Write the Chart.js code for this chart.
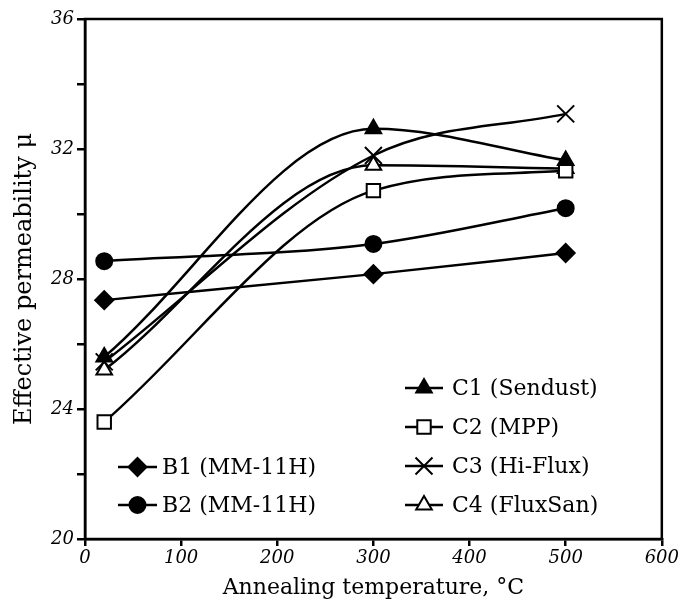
<!DOCTYPE html>
<html>
<head>
<meta charset="utf-8">
<script src="https://cdn.jsdelivr.net/npm/chart.js@4"></script>
<style>
html,body{margin:0;padding:0;background:#fff;}
#wrap{width:681px;height:605px;}
</style>
</head>
<body>
<div id="wrap"><canvas id="c" width="681" height="605"></canvas></div>
<script>
const temps = [20, 300, 500];
const b1 = [27.35, 28.15, 28.8];
const b2 = [28.55, 29.08, 30.18];
const c1 = [25.6, 32.62, 31.65];
const c2 = [23.6, 30.72, 31.33];
const c3 = [25.45, 31.8, 33.08];
const c4 = [25.2, 31.5, 31.4];
const seriesLabels = ['B1 (MM-11H)', 'B2 (MM-11H)', 'C1 (Sendust)', 'C2 (MPP)', 'C3 (Hi-Flux)', 'C4 (FluxSan)'];
const xTicks = [0, 100, 200, 300, 400, 500, 600];
const yTicks = [20, 24, 28, 32, 36];

const serif = '"DejaVu Serif", "Liberation Serif", serif';

function pts(arr){ return temps.map((t,i)=>({x:t, y:arr[i]})); }

const styles = [
  {pointStyle:'rectRot', radius:9, bg:'#000'},
  {pointStyle:'circle', radius:8, bg:'#000'},
  {pointStyle:'triangle', radius:9, bg:'#000'},
  {pointStyle:'rect', radius:9.5, bg:'#fff'},
  {pointStyle:'crossRot', radius:12, bg:'#000'},
  {pointStyle:'triangle', radius:9, bg:'#fff'}
];
const values = [b1, b2, c1, c2, c3, c4];

const datasets = values.map((v,i)=>({
  label: seriesLabels[i],
  data: pts(v),
  borderColor:'#000',
  borderWidth:2.5,
  backgroundColor: styles[i].bg,
  pointBackgroundColor: styles[i].bg,
  pointBorderColor:'#000',
  pointBorderWidth:2,
  pointStyle: styles[i].pointStyle,
  pointRadius: styles[i].radius,
  pointHoverRadius: styles[i].radius,
  cubicInterpolationMode:'monotone',
  fill:false
}));

const legendPlugin = {
  id:'customLegend',
  afterDraw(chart){
    const ctx = chart.ctx;
    const a = chart.chartArea;
    ctx.save();
    ctx.strokeStyle = '#000';
    ctx.lineWidth = 2.5;
    ctx.strokeRect(a.left, a.top, a.right - a.left, a.bottom - a.top);
    const groups = [
      {items:[0,1], lineX0:a.left+33, lineX1:a.left+72, textX:a.left+77, ys:[a.bottom-72, a.bottom-34]},
      {items:[2,3,4,5], lineX0:a.left+320, lineX1:a.left+358, textX:a.left+367, ys:[a.bottom-151, a.bottom-112, a.bottom-73, a.bottom-34]}
    ];
    ctx.font = '22px ' + serif;
    ctx.textBaseline = 'middle';
    ctx.textAlign = 'left';
    groups.forEach(g=>{
      g.items.forEach((idx,k)=>{
        const y = g.ys[k];
        const ds = chart.data.datasets[idx];
        ctx.strokeStyle = '#000';
        ctx.lineWidth = 2.5;
        ctx.beginPath();
        ctx.moveTo(g.lineX0, y);
        ctx.lineTo(g.lineX1, y);
        ctx.stroke();
        ctx.fillStyle = ds.pointBackgroundColor;
        ctx.strokeStyle = '#000';
        ctx.lineWidth = 2;
        Chart.helpers.drawPoint(ctx, {pointStyle: ds.pointStyle, radius: ds.pointRadius, borderWidth:2, rotation:0}, (g.lineX0+g.lineX1)/2, y);
        ctx.fillStyle = '#000';
        ctx.fillText(ds.label, g.textX, y+1);
      });
    });
    ctx.restore();
  }
};

new Chart(document.getElementById('c'), {
  type:'line',
  data:{datasets},
  options:{
    responsive:false,
    animation:false,
    events:[],
    layout:{padding:{top:19, right:18, left:0, bottom:0}},
    plugins:{legend:{display:false}, tooltip:{enabled:false}},
    scales:{
      x:{
        type:'linear', min:0, max:600,
        afterBuildTicks(s){ s.ticks = xTicks.map(v=>({value:v})); },
        afterFit(s){ s.height = 66; },
        border:{display:true, color:'#000', width:2.5},
        grid:{display:true, drawOnChartArea:false, drawTicks:true, tickLength:7, color:'#000', lineWidth:2.5},
        ticks:{color:'#000', font:{family:serif, size:18, style:'italic'}, padding:2, maxRotation:0},
        title:{display:true, text:'Annealing temperature, °C', color:'#000', font:{family:serif, size:22}, padding:{top:1}}
      },
      y:{
        type:'linear', min:20, max:36,
        afterBuildTicks(s){ const t=[]; for(let v=20; v<=36; v+=2) t.push({value:v}); s.ticks=t; },
        afterFit(s){ s.width = 85; },
        border:{display:true, color:'#000', width:2.5},
        grid:{display:true, drawOnChartArea:false, drawTicks:true, tickLength:8, color:'#000', lineWidth:2.5},
        ticks:{color:'#000', font:{family:serif, size:18, style:'italic'}, padding:3,
          callback:(v)=> yTicks.includes(v) ? String(v) : ''},
        title:{display:true, text:'Effective permeability μ', color:'#000', font:{family:serif, size:24}, padding:{top:10, bottom:4}}
      }
    }
  },
  plugins:[legendPlugin]
});
</script>
</body>
</html>
